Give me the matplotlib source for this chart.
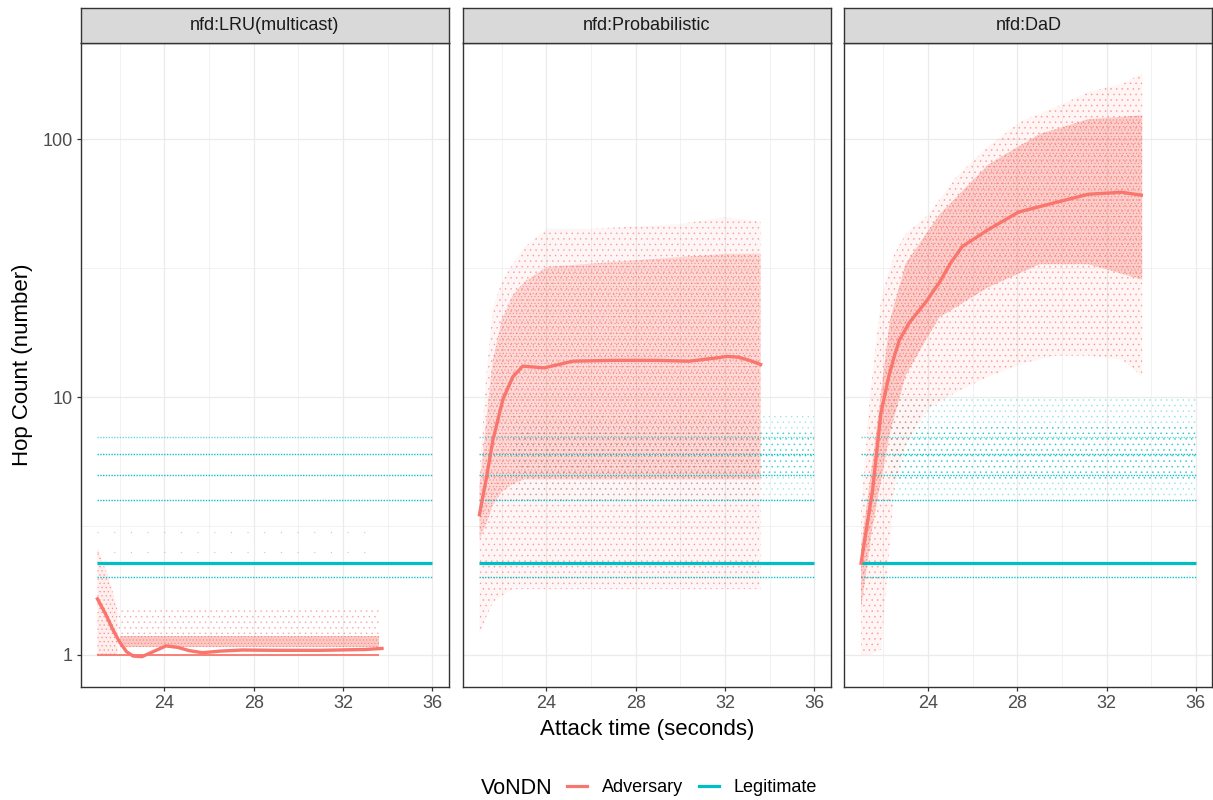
import matplotlib
matplotlib.use("Agg")
import matplotlib.pyplot as plt
from matplotlib.colors import to_rgb
from matplotlib.lines import Line2D
from matplotlib.ticker import FixedLocator, FixedFormatter, NullFormatter

plt.rcParams['font.family'] = ['Liberation Sans', 'DejaVu Sans']
plt.rcParams['hatch.linewidth'] = 0.35

ADV = '#F8766D'
LEG = '#00BFC4'

facets = ['nfd:LRU(multicast)', 'nfd:Probabilistic', 'nfd:DaD']
groups = ['Adversary', 'Legitimate']

x_breaks = [24, 28, 32, 36]
x_minor = [22, 26, 30, 34]
y_breaks = [1, 10, 100]
y_labels = ['1', '10', '100']
y_minor = [3.162, 31.62]

# Legitimate hop counts: fixed levels over the whole run, plus the smoothed mean
legit_levels = [2, 4, 5, 6, 7]
legit_span = [21.0, 36.0]
legit_smooth = [2.27, 2.27]

# ---- nfd:LRU(multicast) ----
lru_smooth_t = [21.0, 21.35, 21.7, 22.0, 22.3, 22.6, 23.0, 23.5, 24.07, 24.6, 25.1,
                25.7, 26.5, 27.5, 29.0, 31.0, 33.0, 33.75]
lru_smooth_y = [1.65, 1.45, 1.25, 1.12, 1.03, 0.99, 0.985, 1.03, 1.084, 1.07, 1.04,
                1.02, 1.035, 1.045, 1.042, 1.042, 1.05, 1.06]
lru_floor = 1.0
lru_adv_span = [21.0, 33.6]
lru_dense_t = [22.0, 33.6]
lru_dense_lo = [1.075, 1.075]
lru_dense_hi = [1.18, 1.18]
lru_sparse_t = [21.9, 33.6]
lru_sparse_lo = [1.18, 1.18]
lru_sparse_hi = [1.5, 1.5]
lru_start_t = [21.0, 21.5, 21.9]
lru_start_lo = [1.0, 1.0, 1.0]
lru_start_hi = [2.6, 2.0, 1.5]
lru_rare_levels = [2.5, 3.0]

# ---- nfd:Probabilistic ----
prob_smooth_t = [21.0, 21.32, 21.6, 22.05, 22.5, 22.94, 23.9, 25.2, 27.0, 28.9,
                 30.4, 31.6, 32.1, 32.6, 33.1, 33.6]
prob_smooth_y = [3.5, 4.9, 6.8, 9.8, 12.0, 13.2, 13.0, 13.8, 13.9, 13.9,
                 13.8, 14.2, 14.4, 14.3, 13.9, 13.4]
prob_adv_t = [21.0, 21.3, 21.6, 22.0, 22.5, 23.0, 24.0, 26.0, 28.0, 30.0, 32.0, 33.6]
prob_adv_lo = [1.2, 1.4, 1.6, 1.7, 1.8, 1.8, 1.8, 1.8, 1.8, 1.8, 1.8, 1.8]
prob_adv_hi = [5, 12, 22, 28, 33, 38, 45, 45, 46, 47, 50, 48]
prob_core_lo = [2.8, 3.2, 3.8, 4.3, 4.6, 4.8, 4.8, 4.8, 4.8, 4.8, 4.8, 4.8]
prob_core_hi = [4.5, 8, 14, 20, 25, 28, 32, 33, 34, 35, 36, 36]
prob_leg_t = [22.5, 36.0]
prob_leg_lo = [4.0, 4.0]
prob_leg_hi = [8.7, 8.7]
prob_legcore_lo = [4.9, 4.9]
prob_legcore_hi = [7.5, 7.5]

# ---- nfd:DaD ----
dad_smooth_t = [21.0, 21.52, 21.89, 22.26, 22.5, 22.71, 23.15, 23.9, 24.49, 25.0, 25.53,
                26.72, 28.06, 29.7, 31.18, 32.67, 33.56]
dad_smooth_y = [2.27, 4.37, 8.66, 12.2, 14.5, 16.6, 19.4, 23.4, 27.7, 33.0, 38.4,
                44.8, 52.3, 56.9, 61.3, 62.4, 60.8]
dad_adv_t = [21.0, 21.4, 21.9, 22.2, 22.5, 23.0, 24.0, 25.3, 26.7, 28.2, 29.7, 31.2, 32.7, 33.6]
dad_adv_lo = [1.0, 1.0, 1.05, 2.2, 4.5, 6.5, 9, 10.5, 12, 13.5, 14.5, 14.5, 14, 12]
dad_adv_hi = [3.7, 10, 24, 30, 36, 43, 51, 72, 94, 118, 133, 153, 164, 181]
dad_core_t = [21.0, 21.5, 22.3, 23.0, 24.5, 26.7, 29.0, 31.2, 33.6]
dad_core_lo = [1.5, 3.1, 7.3, 12.2, 20.4, 26.7, 32.8, 32.8, 28.6]
dad_core_hi = [2.6, 5.5, 20, 33, 51, 80, 105, 120, 124]
dad_leg_t = [22.3, 36.0]
dad_leg_lo = [4.1, 4.1]
dad_leg_hi = [9.8, 9.8]
dad_legcore_lo = [4.8, 4.8]
dad_legcore_hi = [7.9, 7.9]

W, H = 1213, 800
fig = plt.figure(figsize=(W / 100, H / 100), dpi=100)

panel_left = [80.7, 462.7, 844.3]
panel_w = 368.0
panel_top, panel_bot = 43.0, 686.7
strip_top = 8.0


def speckle(ax, t, lo, hi, color, hatch, alpha, fill_alpha=0.0, z=2):
    """Stippled band of points between lo and hi over t."""
    if fill_alpha > 0:
        ax.fill_between(t, lo, hi, facecolor=color, alpha=fill_alpha, lw=0, zorder=z)
    ax.fill_between(t, lo, hi, facecolor='none', edgecolor=(*to_rgb(color), alpha),
                    hatch=hatch, lw=0, zorder=z)


axes = []
for i, name in enumerate(facets):
    l = panel_left[i]
    ax = fig.add_axes([l / W, (H - panel_bot) / H, panel_w / W, (panel_bot - panel_top) / H])
    sx = fig.add_axes([l / W, (H - panel_top) / H, panel_w / W, (panel_top - strip_top) / H])
    sx.set_facecolor('#D9D9D9')
    sx.set_xticks([]); sx.set_yticks([])
    for s in sx.spines.values():
        s.set_color('#333333'); s.set_linewidth(1.0)
    sx.text(0.5, 0.5, name, ha='center', va='center', fontsize=13, color='#1A1A1A',
            transform=sx.transAxes)

    ax.set_yscale('log')
    ax.set_xlim(20.25, 36.74)
    ax.set_ylim(0.753, 236.8)
    ax.xaxis.set_major_locator(FixedLocator(x_breaks))
    ax.xaxis.set_minor_locator(FixedLocator(x_minor))
    ax.yaxis.set_major_locator(FixedLocator(y_breaks))
    ax.yaxis.set_minor_locator(FixedLocator(y_minor))
    ax.yaxis.set_minor_formatter(NullFormatter())
    ax.xaxis.set_major_formatter(FixedFormatter([str(v) for v in x_breaks]))
    ax.grid(True, which='major', color='#EBEBEB', lw=0.9, zorder=0)
    ax.grid(True, which='minor', color='#EBEBEB', lw=0.45, zorder=0)
    ax.set_axisbelow(True)
    ax.tick_params(which='major', direction='out', length=3.2, width=0.9, color='#333333',
                   labelsize=13, labelcolor='#4D4D4D', pad=2.5)
    ax.tick_params(which='minor', length=0)
    if i == 0:
        ax.yaxis.set_major_formatter(FixedFormatter(y_labels))
    else:
        ax.yaxis.set_major_formatter(NullFormatter())
        ax.tick_params(axis='y', which='major', length=0)
    for s in ax.spines.values():
        s.set_color('#333333'); s.set_linewidth(1.0)
    axes.append(ax)

# ---- legitimate scatter (under the adversary cloud) ----
speckle(axes[1], prob_leg_t, prob_leg_lo, prob_leg_hi, LEG, '...', 0.3, z=1.5)
speckle(axes[1], prob_leg_t, prob_legcore_lo, prob_legcore_hi, LEG, '...', 0.5, z=1.5)
speckle(axes[2], dad_leg_t, dad_leg_lo, dad_leg_hi, LEG, '...', 0.35, z=1.5)
speckle(axes[2], dad_leg_t, dad_legcore_lo, dad_legcore_hi, LEG, '...', 0.55, z=1.5)

# ---- adversary clouds ----
a = axes[0]
a.hlines(lru_floor, *lru_adv_span, color=ADV, lw=1.3, zorder=3)
speckle(a, lru_start_t, lru_start_lo, lru_start_hi, ADV, '....', 0.8, 0.12)
speckle(a, lru_sparse_t, lru_sparse_lo, lru_sparse_hi, ADV, '...', 0.55)
speckle(a, lru_dense_t, lru_dense_lo, lru_dense_hi, ADV, '.....', 0.9, 0.4)
for lv in lru_rare_levels:
    a.hlines(lv, *lru_adv_span, color=ADV, lw=0.8, alpha=0.55, linestyles=(0, (1, 14)), zorder=3)

a = axes[1]
speckle(a, prob_adv_t, prob_adv_lo, prob_adv_hi, ADV, '...', 0.6, 0.06)
speckle(a, prob_adv_t, prob_core_lo, prob_core_hi, ADV, '.....', 0.85, 0.22)

a = axes[2]
speckle(a, dad_adv_t, dad_adv_lo, dad_adv_hi, ADV, '...', 0.65, 0.07)
speckle(a, dad_core_t, dad_core_lo, dad_core_hi, ADV, '.....', 0.9, 0.3)

# ---- legitimate fixed-level rows ----
for ax in axes:
    for lv in legit_levels:
        ax.hlines(lv, *legit_span, color=LEG, lw=1.0, alpha=0.6 if lv == 7 else 0.95,
                  linestyles=(0, (1, 1)), zorder=4)

# ---- smoothed means ----
smooths = [(lru_smooth_t, lru_smooth_y), (prob_smooth_t, prob_smooth_y),
           (dad_smooth_t, dad_smooth_y)]
for ax, (st, sy) in zip(axes, smooths):
    ax.plot(legit_span, legit_smooth, color=LEG, lw=2.3, zorder=6, solid_capstyle='butt')
    ax.plot(st, sy, color=ADV, lw=2.4, zorder=7, solid_joinstyle='round')

fig.text(22.5 / W, 1 - 365 / H, 'Hop Count (number)', rotation=90, ha='center', va='center',
         fontsize=16, color='black')
fig.text(647 / W, 1 - 730 / H, 'Attack time (seconds)', ha='center', va='center',
         fontsize=16, color='black')

fig.text(516.5 / W, 1 - 788 / H, 'VoNDN', ha='center', va='center', fontsize=15.5)
handles = [Line2D([], [], color=ADV, lw=2.3), Line2D([], [], color=LEG, lw=2.3)]
fig.legend(handles, groups, loc='center', bbox_to_anchor=(692 / W, 1 - 788 / H), ncol=2,
           frameon=False, fontsize=13, handlelength=1.1, handletextpad=0.8,
           columnspacing=0.9, borderpad=0, borderaxespad=0)

fig.savefig('out.png', dpi=100)
